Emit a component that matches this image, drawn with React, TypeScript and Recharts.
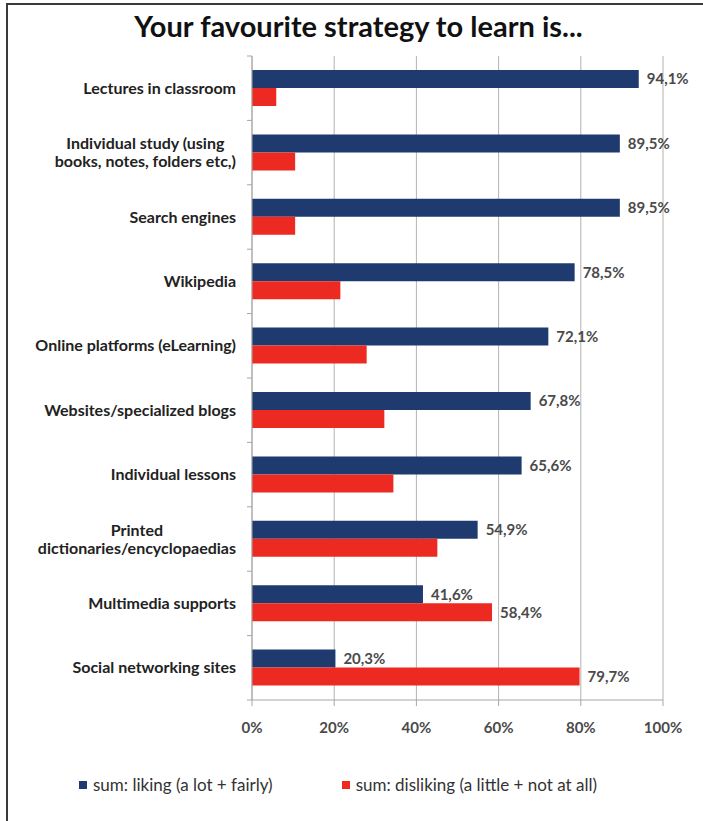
import { BarChart, Bar, XAxis, YAxis, CartesianGrid, LabelList } from "recharts";

// categories (\n marks a wrapped label)
const categories = [
  "Lectures in classroom",
  "Individual study (using\nbooks, notes, folders etc,)",
  "Search engines",
  "Wikipedia",
  "Online platforms (eLearning)",
  "Websites/specialized blogs",
  "Individual lessons",
  "Printed\ndictionaries/encyclopaedias",
  "Multimedia supports",
  "Social networking sites",
];
const liking = [94.1, 89.5, 89.5, 78.5, 72.1, 67.8, 65.6, 54.9, 41.6, 20.3];
const disliking = [5.9, 10.5, 10.5, 21.5, 27.9, 32.2, 34.4, 45.1, 58.4, 79.7];
// only the last two red bars carry a value label in the original
const showDislikeLabel = [false, false, false, false, false, false, false, false, true, true];
const xTicks = [0, 20, 40, 60, 80, 100];

const BLUE = "#1f3a6f";
const RED = "#ec2a22";
const FONT = "Lato, 'Open Sans', sans-serif";
const CAT_SIZE = 16;

const W = 703;
const H = 821;
const TOP = 56;
const PLOT_H = 644;
const AXIS_X = 252;

const fmt = (v: number) => v.toFixed(1).replace(".", ",") + "%";

const data = categories.map((name, i) => ({
  name,
  liking: liking[i],
  disliking: disliking[i],
  dislikeLabel: showDislikeLabel[i] ? fmt(disliking[i]) : undefined,
}));

let ctx: CanvasRenderingContext2D | null = null;
function measure(text: string) {
  if (!ctx) ctx = document.createElement("canvas").getContext("2d");
  if (!ctx) return text.length * 8;
  ctx.font = `bold ${CAT_SIZE}px ${FONT}`;
  return ctx.measureText(text).width;
}

function CategoryTick(props: any) {
  const { x, y, payload, index } = props;
  const lines: string[] = String(payload.value).split("\n");
  const band = PLOT_H / categories.length;
  const lineH = 18;
  const y0 = y - ((lines.length - 1) * lineH) / 2;
  const maxW = Math.max(...lines.map(measure));
  const multi = lines.length > 1;
  return (
    <g>
      <line x1={AXIS_X - 5} x2={AXIS_X} y1={y - band / 2} y2={y - band / 2} stroke="#a6a6a6" />
      {index === categories.length - 1 && (
        <line x1={AXIS_X - 5} x2={AXIS_X} y1={y + band / 2} y2={y + band / 2} stroke="#a6a6a6" />
      )}
      {lines.map((l, i) => (
        <text
          key={i}
          x={multi ? x - maxW / 2 : x}
          y={y0 + i * lineH}
          dy="0.35em"
          textAnchor={multi ? "middle" : "end"}
          fontFamily={FONT}
          fontSize={CAT_SIZE}
          fontWeight={700}
          fill="#222"
        >
          {l}
        </text>
      ))}
    </g>
  );
}

const valueStyle = { fontFamily: FONT, fontSize: 15, fontWeight: 700, fill: "#4a4a4a" };

export default function App() {
  return (
    <div
      style={{
        position: "fixed",
        left: 0,
        top: 0,
        width: W,
        height: H,
        background: "#fff",
        overflow: "hidden",
        fontFamily: FONT,
      }}
    >
      <div
        style={{
          position: "absolute",
          left: 6,
          top: 3,
          width: W,
          height: H + 10,
          borderLeft: "2px solid #3a3a3a",
          borderTop: "2px solid #3a3a3a",
        }}
      />
      <div
        style={{
          position: "absolute",
          left: 0,
          top: 9,
          width: 717,
          textAlign: "center",
          fontSize: 29,
          lineHeight: "34px",
          fontWeight: 700,
          color: "#111",
        }}
      >
        Your favourite strategy to learn is...
      </div>

      <div style={{ position: "absolute", left: 0, top: 0 }}>
        <BarChart
          width={W}
          height={H}
          data={data}
          layout="vertical"
          margin={{ top: TOP, right: W - 663, left: 0, bottom: H - TOP - PLOT_H - 40 }}
          barGap={0}
        >
          <CartesianGrid horizontal={false} stroke="#b3b3b3" />
          <XAxis
            type="number"
            domain={[0, 100]}
            ticks={xTicks}
            tickFormatter={(v: number) => `${v}%`}
            height={40}
            stroke="#a6a6a6"
            tickSize={6}
            tickMargin={16}
            tick={{ fontFamily: FONT, fontSize: 15, fontWeight: 700, fill: "#4a4a4a" }}
            interval={0}
          />
          <YAxis
            type="category"
            dataKey="name"
            width={AXIS_X}
            stroke="#a6a6a6"
            tickLine={false}
            tickSize={6}
            tickMargin={10}
            tick={<CategoryTick />}
            interval={0}
          />
          <Bar dataKey="liking" fill={BLUE} barSize={18} isAnimationActive={false}>
            <LabelList
              dataKey="liking"
              position="right"
              offset={8}
              formatter={(v: any) => fmt(Number(v))}
              style={valueStyle}
            />
          </Bar>
          <Bar dataKey="disliking" fill={RED} barSize={18} isAnimationActive={false}>
            <LabelList dataKey="dislikeLabel" position="right" offset={8} style={valueStyle} />
          </Bar>
        </BarChart>
      </div>

      <div
        style={{
          position: "absolute",
          top: 775,
          left: 79,
          display: "flex",
          alignItems: "center",
          fontSize: 17,
          color: "#333",
          lineHeight: "20px",
        }}
      >
        <span style={{ width: 8, height: 8, background: BLUE, marginRight: 6 }} />
        <span>sum: liking (a lot + fairly)</span>
        <span style={{ width: 8, height: 8, background: RED, marginLeft: 69, marginRight: 6 }} />
        <span>sum: disliking (a little + not at all)</span>
      </div>
    </div>
  );
}
